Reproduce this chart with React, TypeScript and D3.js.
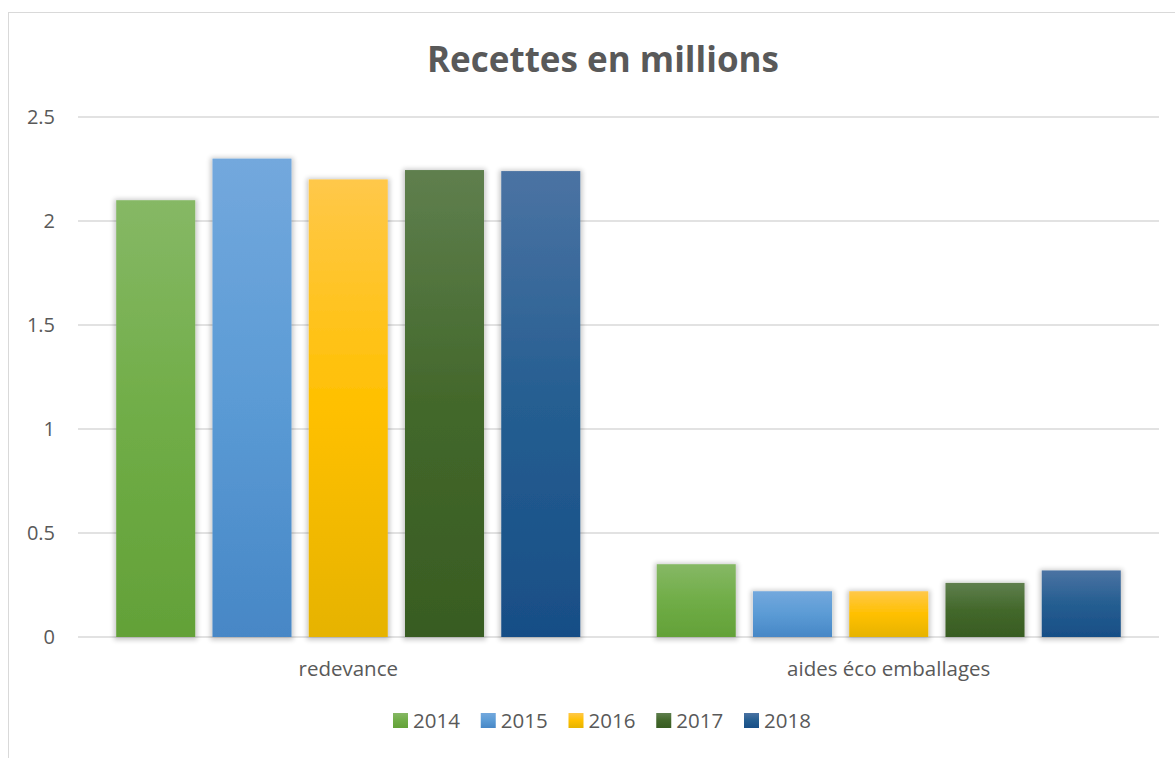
import React from "react";
import * as d3 from "d3";

const categories = ["redevance", "aides éco emballages"];
const years = ["2014", "2015", "2016", "2017", "2018"];
const values2014 = [2.1, 0.35];
const values2015 = [2.3, 0.22];
const values2016 = [2.2, 0.22];
const values2017 = [2.245, 0.26];
const values2018 = [2.24, 0.32];
const seriesValues = [values2014, values2015, values2016, values2017, values2018];
const yTicks = [0, 0.5, 1, 1.5, 2, 2.5];
const colorsTop = ["#86B865", "#73A8DD", "#FFC84A", "#5F7F4E", "#4B73A3"];
const colorsMid = ["#70AD47", "#5B9BD5", "#FFC000", "#43682B", "#255E91"];
const colorsBot = ["#63A138", "#4787C6", "#E6B300", "#385C22", "#184E86"];

const W = 1175;
const H = 758;
const FONT = "'Open Sans', 'Liberation Sans', sans-serif";
const TXT = "#595959";

export default function App() {
  const left = 78;
  const right = 1159;
  const top = 117;
  const bottom = 637;
  const y = d3.scaleLinear().domain([0, 2.5]).range([bottom, top]);
  const x0 = d3.scaleBand<string>().domain(categories).range([left, right]).paddingInner(0).paddingOuter(0);
  const x1 = d3
    .scaleBand<string>()
    .domain(years)
    .range([0, x0.bandwidth()])
    .paddingInner(0.179)
    .paddingOuter(0.397);

  const legendX = d3.scaleBand<string>().domain(years).range([393, 393 + 87.75 * 5]);

  return (
    <svg
      width={W}
      height={H}
      style={{ position: "absolute", left: 0, top: 0, background: "#fff" }}
      xmlns="http://www.w3.org/2000/svg"
    >
      <defs>
        {years.map((yr, i) => (
          <linearGradient key={yr} id={`g${i}`} x1="0" y1="0" x2="0" y2="1">
            <stop offset="0%" stopColor={colorsTop[i]} />
            <stop offset="50%" stopColor={colorsMid[i]} />
            <stop offset="100%" stopColor={colorsBot[i]} />
          </linearGradient>
        ))}
        <filter id="shadow" x="-20%" y="-20%" width="140%" height="140%">
          <feMorphology in="SourceAlpha" operator="dilate" radius="2" result="d" />
          <feGaussianBlur in="d" stdDeviation="2.5" />
          <feOffset dx="0" dy="1" result="b" />
          <feComponentTransfer>
            <feFuncA type="linear" slope="0.22" />
          </feComponentTransfer>
          <feMerge>
            <feMergeNode />
            <feMergeNode in="SourceGraphic" />
          </feMerge>
        </filter>
      </defs>

      <rect x={8.5} y={12.5} width={W + 20} height={H + 20} fill="#fff" stroke="#D9D9D9" strokeWidth={1} />

      <text
        x={603}
        y={72}
        textAnchor="middle"
        fontFamily={FONT}
        fontWeight="bold"
        fontSize={35}
        fill={TXT}
      >
        Recettes en millions
      </text>

      {yTicks.map((t) => (
        <g key={t}>
          <line x1={left} x2={right} y1={y(t)} y2={y(t)} stroke="#D9D9D9" strokeWidth={1.3} />
          <text
            x={55}
            y={y(t)}
            dy="0.35em"
            textAnchor="end"
            fontFamily={FONT}
            fontSize={20}
            fill={TXT}
          >
            {t}
          </text>
        </g>
      ))}

      {categories.map((c, ci) => (
        <g key={c} transform={`translate(${x0(c)},0)`}>
          {years.map((yr, si) => {
            const v = seriesValues[si][ci];
            return (
              <rect
                key={yr}
                x={x1(yr)}
                y={y(v)}
                width={x1.bandwidth()}
                height={y(0) - y(v)}
                fill={`url(#g${si})`}
                filter="url(#shadow)"
              />
            );
          })}
          <text
            x={x0.bandwidth() / 2}
            y={676}
            textAnchor="middle"
            fontFamily={FONT}
            fontSize={20.5}
            fill={TXT}
          >
            {c}
          </text>
        </g>
      ))}

      {years.map((yr, i) => (
        <g key={yr} transform={`translate(${legendX(yr)},0)`}>
          <rect x={0} y={713} width={15} height={15} fill={`url(#g${i})`} />
          <text x={20} y={727.5} fontFamily={FONT} fontSize={20.5} fill={TXT}>
            {yr}
          </text>
        </g>
      ))}
    </svg>
  );
}
